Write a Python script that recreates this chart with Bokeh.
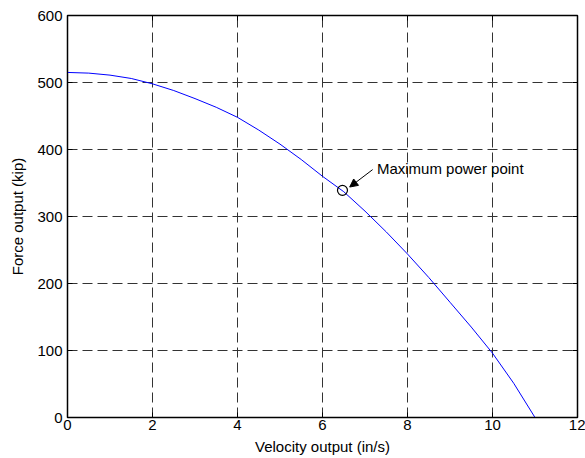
import math
from bokeh.plotting import figure
from bokeh.models import (Range1d, FixedTicker, Arrow, NormalHead,
                          Label, ColumnDataSource)
from bokeh.embed import file_html
from bokeh.resources import INLINE

# ---- data ----
velocity = [0, 0.5, 1, 1.5, 2, 2.5, 3, 3.5, 4, 4.5, 5, 5.5, 6, 6.5, 7,
            7.5, 8, 8.5, 9, 9.5, 10, 10.5, 11]
force = [515, 514, 511, 506, 498, 488, 476, 463, 448, 429, 408, 385, 360,
         337, 308, 277, 244, 209, 172, 135, 96, 51, 0]

max_power_v = [6.47]
max_power_f = [339]

annot_text = "Maximum power point"
annot_text_v = 7.28
annot_text_f = 372
arrow_tail_v = 7.18
arrow_tail_f = 370
arrow_head_v = 6.64
arrow_head_f = 344

x_ticks = [0, 2, 4, 6, 8, 10, 12]
y_ticks = [0, 100, 200, 300, 400, 500, 600]
x_label = "Velocity output (in/s)"
y_label = "Force output (kip)"

FONT = "Liberation Sans"
FS = "15px"

X_MAX = x_ticks[-1]
Y_MAX = y_ticks[-1]

p = figure(width=585, height=458, output_backend="svg", toolbar_location=None,
           x_range=Range1d(x_ticks[0], X_MAX), y_range=Range1d(y_ticks[0], Y_MAX),
           min_border_left=67, min_border_right=8, min_border_top=15,
           min_border_bottom=41)
p.background_fill_color = "white"
p.border_fill_color = "white"
p.outline_line_color = "black"
p.outline_line_width = 1.5
p.outline_line_alpha = 1.0

for ax, ticks, lab in ((p.xaxis[0], x_ticks, x_label), (p.yaxis[0], y_ticks, y_label)):
    ax.ticker = FixedTicker(ticks=ticks)
    ax.axis_label = lab
    ax.axis_label_text_font = FONT
    ax.axis_label_text_font_size = FS
    ax.axis_label_text_font_style = "normal"
    ax.axis_label_text_color = "black"
    ax.major_label_text_font = FONT
    ax.major_label_text_font_size = FS
    ax.major_label_text_color = "black"
    ax.major_tick_in = 5
    ax.major_tick_out = 0
    ax.minor_tick_line_color = None
    ax.axis_line_color = "black"
    ax.major_tick_line_color = "black"

p.xaxis[0].major_label_standoff = 2
p.xaxis[0].axis_label_standoff = 5
p.yaxis[0].major_label_standoff = 5
p.yaxis[0].axis_label_standoff = 8

for g, ticks in ((p.xgrid[0], x_ticks), (p.ygrid[0], y_ticks)):
    g.ticker = FixedTicker(ticks=ticks)
    g.grid_line_color = "#333333"
    g.grid_line_dash = "10 5"
    g.grid_line_width = 1

# mirrored tick marks on the right and top edges (box on)
p.ray(x=[X_MAX] * len(y_ticks), y=y_ticks, length=5, length_units="screen",
      angle=math.pi, line_color="black", line_width=1)
p.ray(x=x_ticks, y=[Y_MAX] * len(x_ticks), length=5, length_units="screen",
      angle=-math.pi / 2, line_color="black", line_width=1)

src = ColumnDataSource(dict(v=velocity, f=force))
p.line("v", "f", source=src, line_color="#0000ff", line_width=1)

p.scatter(max_power_v, max_power_f, marker="circle", size=10, fill_color=None,
          line_color="black", line_width=1.2)

p.add_layout(Arrow(end=NormalHead(size=8, fill_color="black", line_color="black"),
                   x_start=arrow_tail_v, y_start=arrow_tail_f,
                   x_end=arrow_head_v, y_end=arrow_head_f,
                   line_color="black", line_width=1))
p.add_layout(Label(x=annot_text_v, y=annot_text_f, text=annot_text,
                   text_font=FONT, text_font_size="15px", text_color="black",
                   text_align="left", text_baseline="middle"))

open("out.html", "w").write(file_html(p, INLINE))
